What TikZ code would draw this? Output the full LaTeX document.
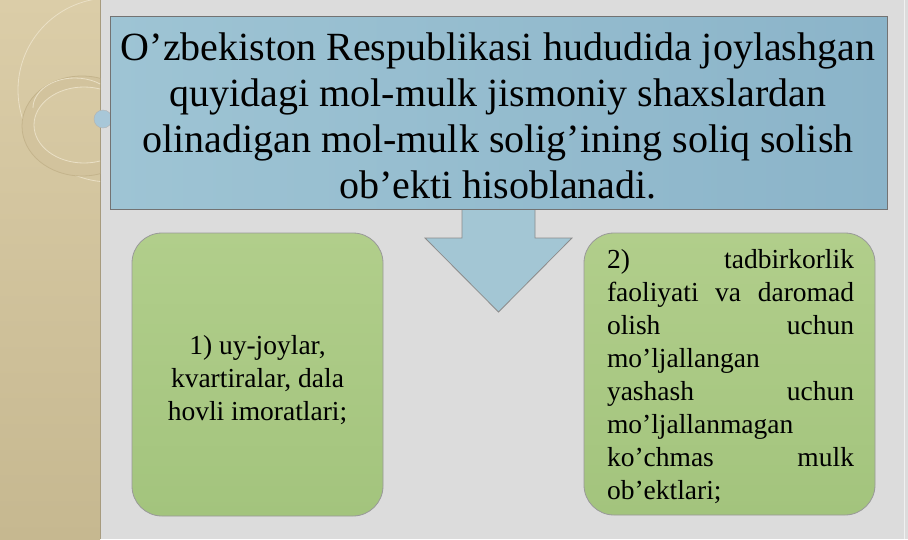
\documentclass[tikz,border=0pt]{standalone}
\usepackage{fontspec}
\setmainfont{Liberation Serif}
\definecolor{striptop}{HTML}{DBCDA8}
\definecolor{stripbot}{HTML}{C6B890}
\definecolor{stripline}{HTML}{C4B48C}
\definecolor{ringfill}{HTML}{D2C39D}
\definecolor{ornlight}{HTML}{EAE0C6}
\definecolor{bgcol}{HTML}{DCDCDC}
\definecolor{titleblue}{HTML}{8BB4C9}
\definecolor{titlelight}{HTML}{9EC4D4}
\definecolor{arrowblue}{HTML}{A3C6D4}
\definecolor{greentop}{HTML}{B1CE8B}
\definecolor{greenbot}{HTML}{A3C47D}
\definecolor{dotblue}{HTML}{A8C7D8}
\begin{document}
\begin{tikzpicture}[x=1pt,y=-1pt,
  titlebox/.style={draw=black!55, line width=0.8pt, left color=titlelight, right color=titleblue,
    minimum width=777pt, minimum height=193pt, inner sep=0pt},
  titletext/.style={align=center, inner sep=0pt, font=\fontsize{40}{46}\selectfont},
  greenbox/.style={draw=black!40, line width=0.8pt, top color=greentop, bottom color=greenbot,
    rounded corners=30pt, inner sep=0pt},
  boxtext/.style={inner sep=0pt, font=\fontsize{27.5}{33}\selectfont},
  blockarrow/.style={draw=black!45, line width=0.8pt, fill=arrowblue, line join=miter},
  ornament/.style={draw=ornlight, line width=0.8pt}
]
\useasboundingbox (0,0) rectangle (908,539);
% background
\fill[bgcol] (0,0) rectangle (908,539);
\shade[top color=striptop, bottom color=stripbot] (0,0) rectangle (100,539);
\draw[stripline!80!black!90, line width=1pt] (100,0) -- (100,539);
\draw[white!60!bgcol, line width=1pt] (904,0) -- (904,539);
% ornaments on the strip
\begin{scope}
  \clip (0,0) rectangle (100,539);
  \draw[ornament] (110,90) circle[radius=92];
  \fill[ringfill, even odd rule] (82,126) ellipse[x radius=60, y radius=50]
                                 (84,125) ellipse[x radius=50, y radius=38];
  \draw[ornament, draw=stripline] (82,126) ellipse[x radius=60, y radius=50];
  \draw[ornament] (84,125) ellipse[x radius=50, y radius=38];
  \draw[ornament] (33,108) arc[start angle=180, end angle=330, x radius=42, y radius=30];
\end{scope}
\node[circle, draw=black!30, fill=dotblue, minimum size=18pt, inner sep=0pt] (dot) at (103,119) {};
% block arrow
\draw[blockarrow] (462,200) -- (462,238) -- (425,238) -- (498.5,312) -- (572,238) -- (535,238) -- (535,200) -- cycle;
% title
\node[titlebox] (title) at (498.5,112.5) {};
\node[titletext] (ttext) at (498,116) {O’zbekiston Respublikasi hududida joylashgan\\
quyidagi mol-mulk jismoniy shaxslardan\\
olinadigan mol-mulk solig’ining soliq solish\\
ob’ekti hisoblanadi.};
% left box
\node[greenbox, minimum width=251pt, minimum height=283pt] (b1) at (257.5,374.5) {};
\node[boxtext, align=center] (t1) at (257.5,380) {1) uy-joylar,\\kvartiralar, dala\\hovli imoratlari;};
% right box
\node[greenbox, minimum width=291pt, minimum height=282pt] (b2) at (729.5,374) {};
\node[boxtext, text width=247pt, align=left] (t2) at (730.5,377) {2)\hfill tadbirkorlik\\
faoliyati\hfill va\hfill daromad\\
olish\hfill uchun\\
mo’ljallangan\\
yashash\hfill uchun\\
mo’ljallanmagan\\
ko’chmas\hfill mulk\\
ob’ektlari;};
\end{tikzpicture}
\end{document}
